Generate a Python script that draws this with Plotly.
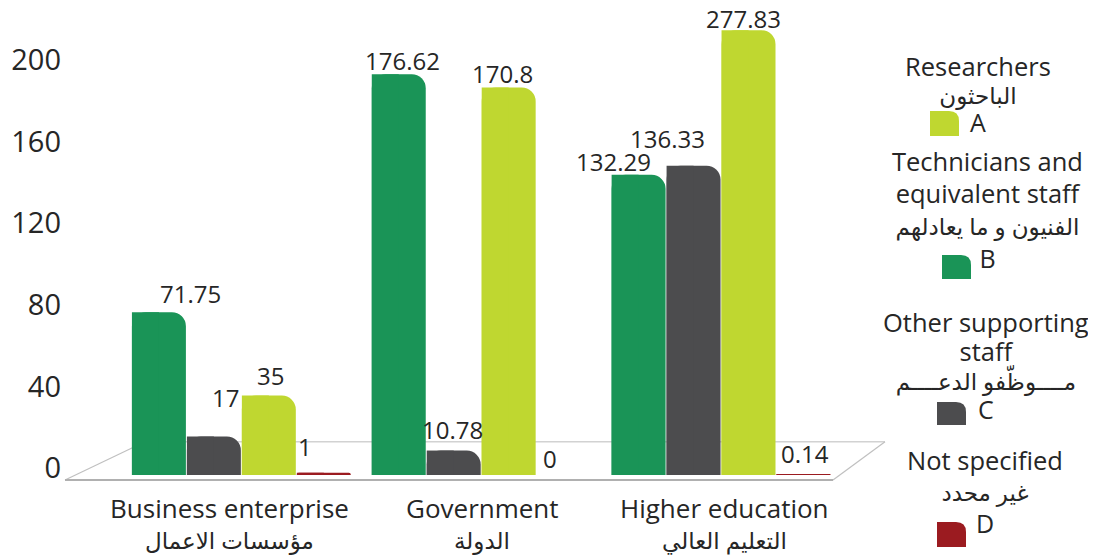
import plotly.graph_objects as go

# ---------------- data ----------------
CATEGORIES_EN = ["Business enterprise", "Government", "Higher education"]
CATEGORIES_AR = ["مؤسسات الاعمال", "الدولة", "التعليم العالي"]

TECHNICIANS = [71.75, 176.62, 132.29]      # B
OTHER_STAFF = [17, 10.78, 136.33]          # C
RESEARCHERS = [35, 170.8, 277.83]          # A
NOT_SPECIFIED = [1, 0, 0.14]               # D

Y_TICKS = [0, 40, 80, 120, 160, 200]

LEGEND_EN = {
    "A": ["Researchers"],
    "B": ["Technicians and", "equivalent staff"],
    "C": ["Other supporting", "staff"],
    "D": ["Not specified"],
}
LEGEND_AR = {
    "A": "الباحثون",
    "B": "الفنيون و ما يعادلهم",
    "C": "مــــوظّفو الدعــــم",
    "D": "غير محدد",
}

# ---------------- style ----------------
PAGE_W, PAGE_H = 1096, 556
OFF = 8                      # default page body margin
W, H = PAGE_W - OFF, PAGE_H - OFF
GREEN, GRAY, LIME, RED = "#1a9457", "#4c4c4e", "#bfd730", "#9b1b20"
TXT = "#262626"
FONT = "Open Sans, DejaVu Sans, sans-serif"


def fx(x):
    return (x - OFF) / W


def fy(y):
    return 1 - (y - OFF) / H


SLOT = 55 / 240
BAR_W = 54 / 240
GROUP_START = -109.3 / 240
Y_TOP = 197
Y_CAP = 196

# label offsets in px (dx, extra lift)
LABEL_DX = {"B": [32, 4, -25], "C": [12, -1, -26], "A": [2, -6, -5], "D": [-19, -14, 2]}
LABEL_DY = {"B": [5, 0, 0], "C": [25, 8, 14], "A": [7, 0, -2], "D": [13, 3, 8]}
CAT_DX = [-12, 1, 4]

series = [
    ("B", "Technicians and equivalent staff", TECHNICIANS, GREEN),
    ("C", "Other supporting staff", OTHER_STAFF, GRAY),
    ("A", "Researchers", RESEARCHERS, LIME),
    ("D", "Not specified", NOT_SPECIFIED, RED),
]

fig = go.Figure()
annotations = []

for j, (key, name, vals, color) in enumerate(series):
    shown = [min(v, Y_CAP) for v in vals]
    off = GROUP_START + j * SLOT
    fig.add_bar(x=CATEGORIES_EN, y=shown, offset=off, width=BAR_W, name=name,
                marker=dict(color=color, cornerradius=14, line_width=0),
                showlegend=False, hovertext=[f"{v:g}" for v in vals], hoverinfo="text+name")
    # square off the top-left corner
    fig.add_bar(x=CATEGORIES_EN, y=shown, offset=off, width=BAR_W / 2,
                marker=dict(color=color, line_width=0), showlegend=False, hoverinfo="skip")
    for i, v in enumerate(vals):
        annotations.append(dict(
            x=i + off + BAR_W / 2, y=shown[i], xref="x", yref="y",
            text=f"{v:g}", showarrow=False, yanchor="bottom", xanchor="center",
            xshift=LABEL_DX[key][i], yshift=LABEL_DY[key][i] - 5,
            font=dict(family=FONT, size=24, color=TXT)))

# invisible trace to carry the tick axis
fig.add_scatter(x=[CATEGORIES_EN[0]], y=[0], yaxis="y2", mode="markers",
                marker=dict(opacity=0), showlegend=False, hoverinfo="skip")

# category labels
for i, (en, ar) in enumerate(zip(CATEGORIES_EN, CATEGORIES_AR)):
    annotations.append(dict(x=i, y=fy(508), xref="x", yref="paper", text=en, showarrow=False,
                            xshift=CAT_DX[i], yanchor="middle",
                            font=dict(family=FONT, size=26, color=TXT)))
    annotations.append(dict(x=i, y=fy(540), xref="x", yref="paper", text=ar, showarrow=False,
                            xshift=CAT_DX[i], yanchor="middle",
                            font=dict(family=FONT, size=23, color=TXT)))

# legend: one text block per entry (line pitch set by block font size)
LEG_LAYOUT = {
    # key: (block center y, text center x, line pitch font size, icon box, color)
    "A": (94, 978, 21.5, (930, 111, 959, 136), LIME),
    "B": (210, 987, 24.8, (942, 255, 971, 279), GREEN),
    "C": (365, 986, 22.3, (937, 402, 966, 425), GRAY),
    "D": (491, 985, 24.2, (937, 522, 966, 547), RED),
}

shapes = []


def rounded_tr(x0, y0, x1, y1, r):
    return (f"M {fx(x0)},{fy(y1)} L {fx(x0)},{fy(y0)} L {fx(x1 - r)},{fy(y0)} "
            f"Q {fx(x1)},{fy(y0)} {fx(x1)},{fy(y0 + r)} L {fx(x1)},{fy(y1)} Z")


def span(t, size):
    return f"<span style='font-size:{size}px'>{t}</span>"


for key, (cy, cx, pitch, box, color) in LEG_LAYOUT.items():
    lines = [span(l, 25.5) for l in LEGEND_EN[key]] + [span(LEGEND_AR[key], 23), span(key, 25)]
    annotations.append(dict(x=fx(cx), y=fy(cy), xref="paper", yref="paper",
                            text="<br>".join(lines), align="center",
                            showarrow=False, xanchor="center", yanchor="middle",
                            font=dict(family=FONT, size=pitch, color=TXT)))
    shapes.append(dict(type="path", xref="paper", yref="paper",
                       path=rounded_tr(*box, 10), fillcolor=color, line_width=0, layer="above"))

# floor (pseudo-3D)
shapes += [
    dict(type="line", xref="paper", yref="paper", x0=fx(145), y0=fy(441.7), x1=fx(885), y1=fy(441.7),
         line=dict(color="#d2d2d2", width=1.5), layer="below"),
    dict(type="line", xref="paper", yref="paper", x0=fx(65), y0=fy(480), x1=fx(145), y1=fy(441.7),
         line=dict(color="#c0c0c0", width=1.2), layer="below"),
    dict(type="line", xref="paper", yref="paper", x0=fx(833), y0=fy(480), x1=fx(885), y1=fy(441.7),
         line=dict(color="#c0c0c0", width=1.2), layer="below"),
    dict(type="line", xref="paper", yref="paper", x0=fx(65), y0=fy(480), x1=fx(833), y1=fy(480),
         line=dict(color="#b0b0b0", width=2), layer="below"),
]

fig.update_layout(
    width=W, height=H,
    margin=dict(l=0, r=0, t=0, b=0, autoexpand=False),
    paper_bgcolor="white", plot_bgcolor="rgba(0,0,0,0)",
    barmode="overlay",
    showlegend=False,
    font=dict(family=FONT, color=TXT),
    xaxis=dict(type="category", categoryarray=CATEGORIES_EN, domain=[fx(62), fx(900)],
               range=[-0.747, 2.747], showticklabels=False, showgrid=False, zeroline=False,
               showline=False, ticks=""),
    yaxis=dict(domain=[fy(475), fy(28)], range=[0, Y_TOP], showticklabels=False,
               showgrid=False, zeroline=False, showline=False, ticks=""),
    yaxis2=dict(overlaying="y", side="left", anchor="x", range=[-3.4, 215.7],
                tickvals=Y_TICKS, ticktext=[str(t) for t in Y_TICKS],
                showgrid=False, zeroline=False, showline=False, ticks="",
                tickfont=dict(family=FONT, size=29, color=TXT)),
    annotations=annotations,
    shapes=shapes,
)

fig.write_html("out.html")
